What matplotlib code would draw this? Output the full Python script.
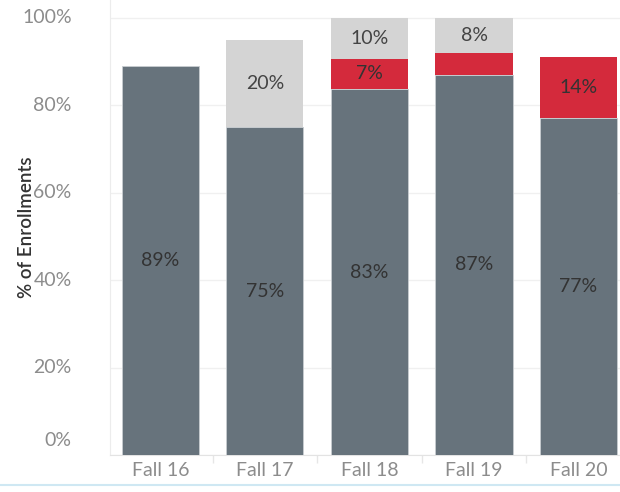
import numpy as np
import matplotlib
matplotlib.use("Agg")
import matplotlib.pyplot as plt

terms = ["Fall 16", "Fall 17", "Fall 18", "Fall 19", "Fall 20"]
main_pct = [89, 75, 83.7, 87, 77]
red_pct = [0, 0, 7, 5, 14]
light_pct = [0, 20, 9.3, 8, 0]
main_lbl = ["89%", "75%", "83%", "87%", "77%"]
red_lbl = ["", "", "7%", "", "14%"]
light_lbl = ["", "20%", "10%", "8%", ""]

c_main = "#67737c"
c_red = "#d42a3c"
c_light = "#d4d4d4"
tick_col = "#8c8c8c"

plt.rcParams['font.family'] = ['Lato', 'DejaVu Sans']

fig = plt.figure(figsize=(6.2, 4.92), dpi=100)
ax = fig.add_axes([110/620, 37/492, 510/620, 455/492])

x = np.arange(len(terms))
main = np.array(main_pct)
red = np.array(red_pct)
light = np.array(light_pct)

w = 0.737
ax.bar(x, main, w, color=c_main, edgecolor="#c8cdd1", linewidth=0.6, zorder=3)
ax.bar(x, red, w, bottom=main, color=c_red, linewidth=0, zorder=3)
ax.bar(x, light, w, bottom=main + red, color=c_light, linewidth=0, zorder=3)

fs = 14
for i in range(len(terms)):
    ax.text(x[i], main[i] / 2, main_lbl[i], ha="center", va="center",
            fontsize=fs, color="#333333", zorder=4)
    if red_lbl[i]:
        ax.text(x[i], main[i] + red[i] / 2, red_lbl[i], ha="center", va="center",
                fontsize=fs, color="#333333", zorder=4)
    if light_lbl[i]:
        ax.text(x[i], main[i] + red[i] + light[i] / 2, light_lbl[i], ha="center",
                va="center", fontsize=fs, color="#444444", zorder=4)

ax.set_xlim(-0.483, 4.397)
ax.set_ylim(0, 104.1)

yt = [0, 20, 40, 60, 80, 100]
ax.set_yticks(yt)
ax.set_yticklabels([])
for v in yt:
    ax.axhline(v, color="#f0f0f0", linewidth=1, zorder=1)
    yy = v + 3.3 if v == 0 else v
    ax.text(-0.075, yy, f"{v}%", transform=ax.get_yaxis_transform(),
            ha="right", va="center", fontsize=fs, color=tick_col)
ax.tick_params(axis="y", length=0)

ax.set_xticks(x)
ax.set_xticklabels(terms, fontsize=fs, color=tick_col)
ax.tick_params(axis="x", length=0, pad=5)
ax.set_xticks(np.arange(0.5, 4.0, 1.0), minor=True)
ax.tick_params(axis="x", which="minor", length=6, color="#e6e6e6", width=1)

for s in ["top", "right"]:
    ax.spines[s].set_visible(False)
ax.spines["left"].set_color("#ececec")
ax.spines["bottom"].set_color("#e3e3e3")

ax.set_ylabel("% of Enrollments", fontsize=13.5, color="#333333",
              fontweight="semibold", labelpad=0)
ax.yaxis.set_label_coords(-0.148, 0.5)

fig.add_artist(plt.Line2D([0, 1], [1 - 485/492, 1 - 485/492],
                          transform=fig.transFigure, color="#cfe8f3", linewidth=1.5))

fig.savefig("out.png", dpi=100)
